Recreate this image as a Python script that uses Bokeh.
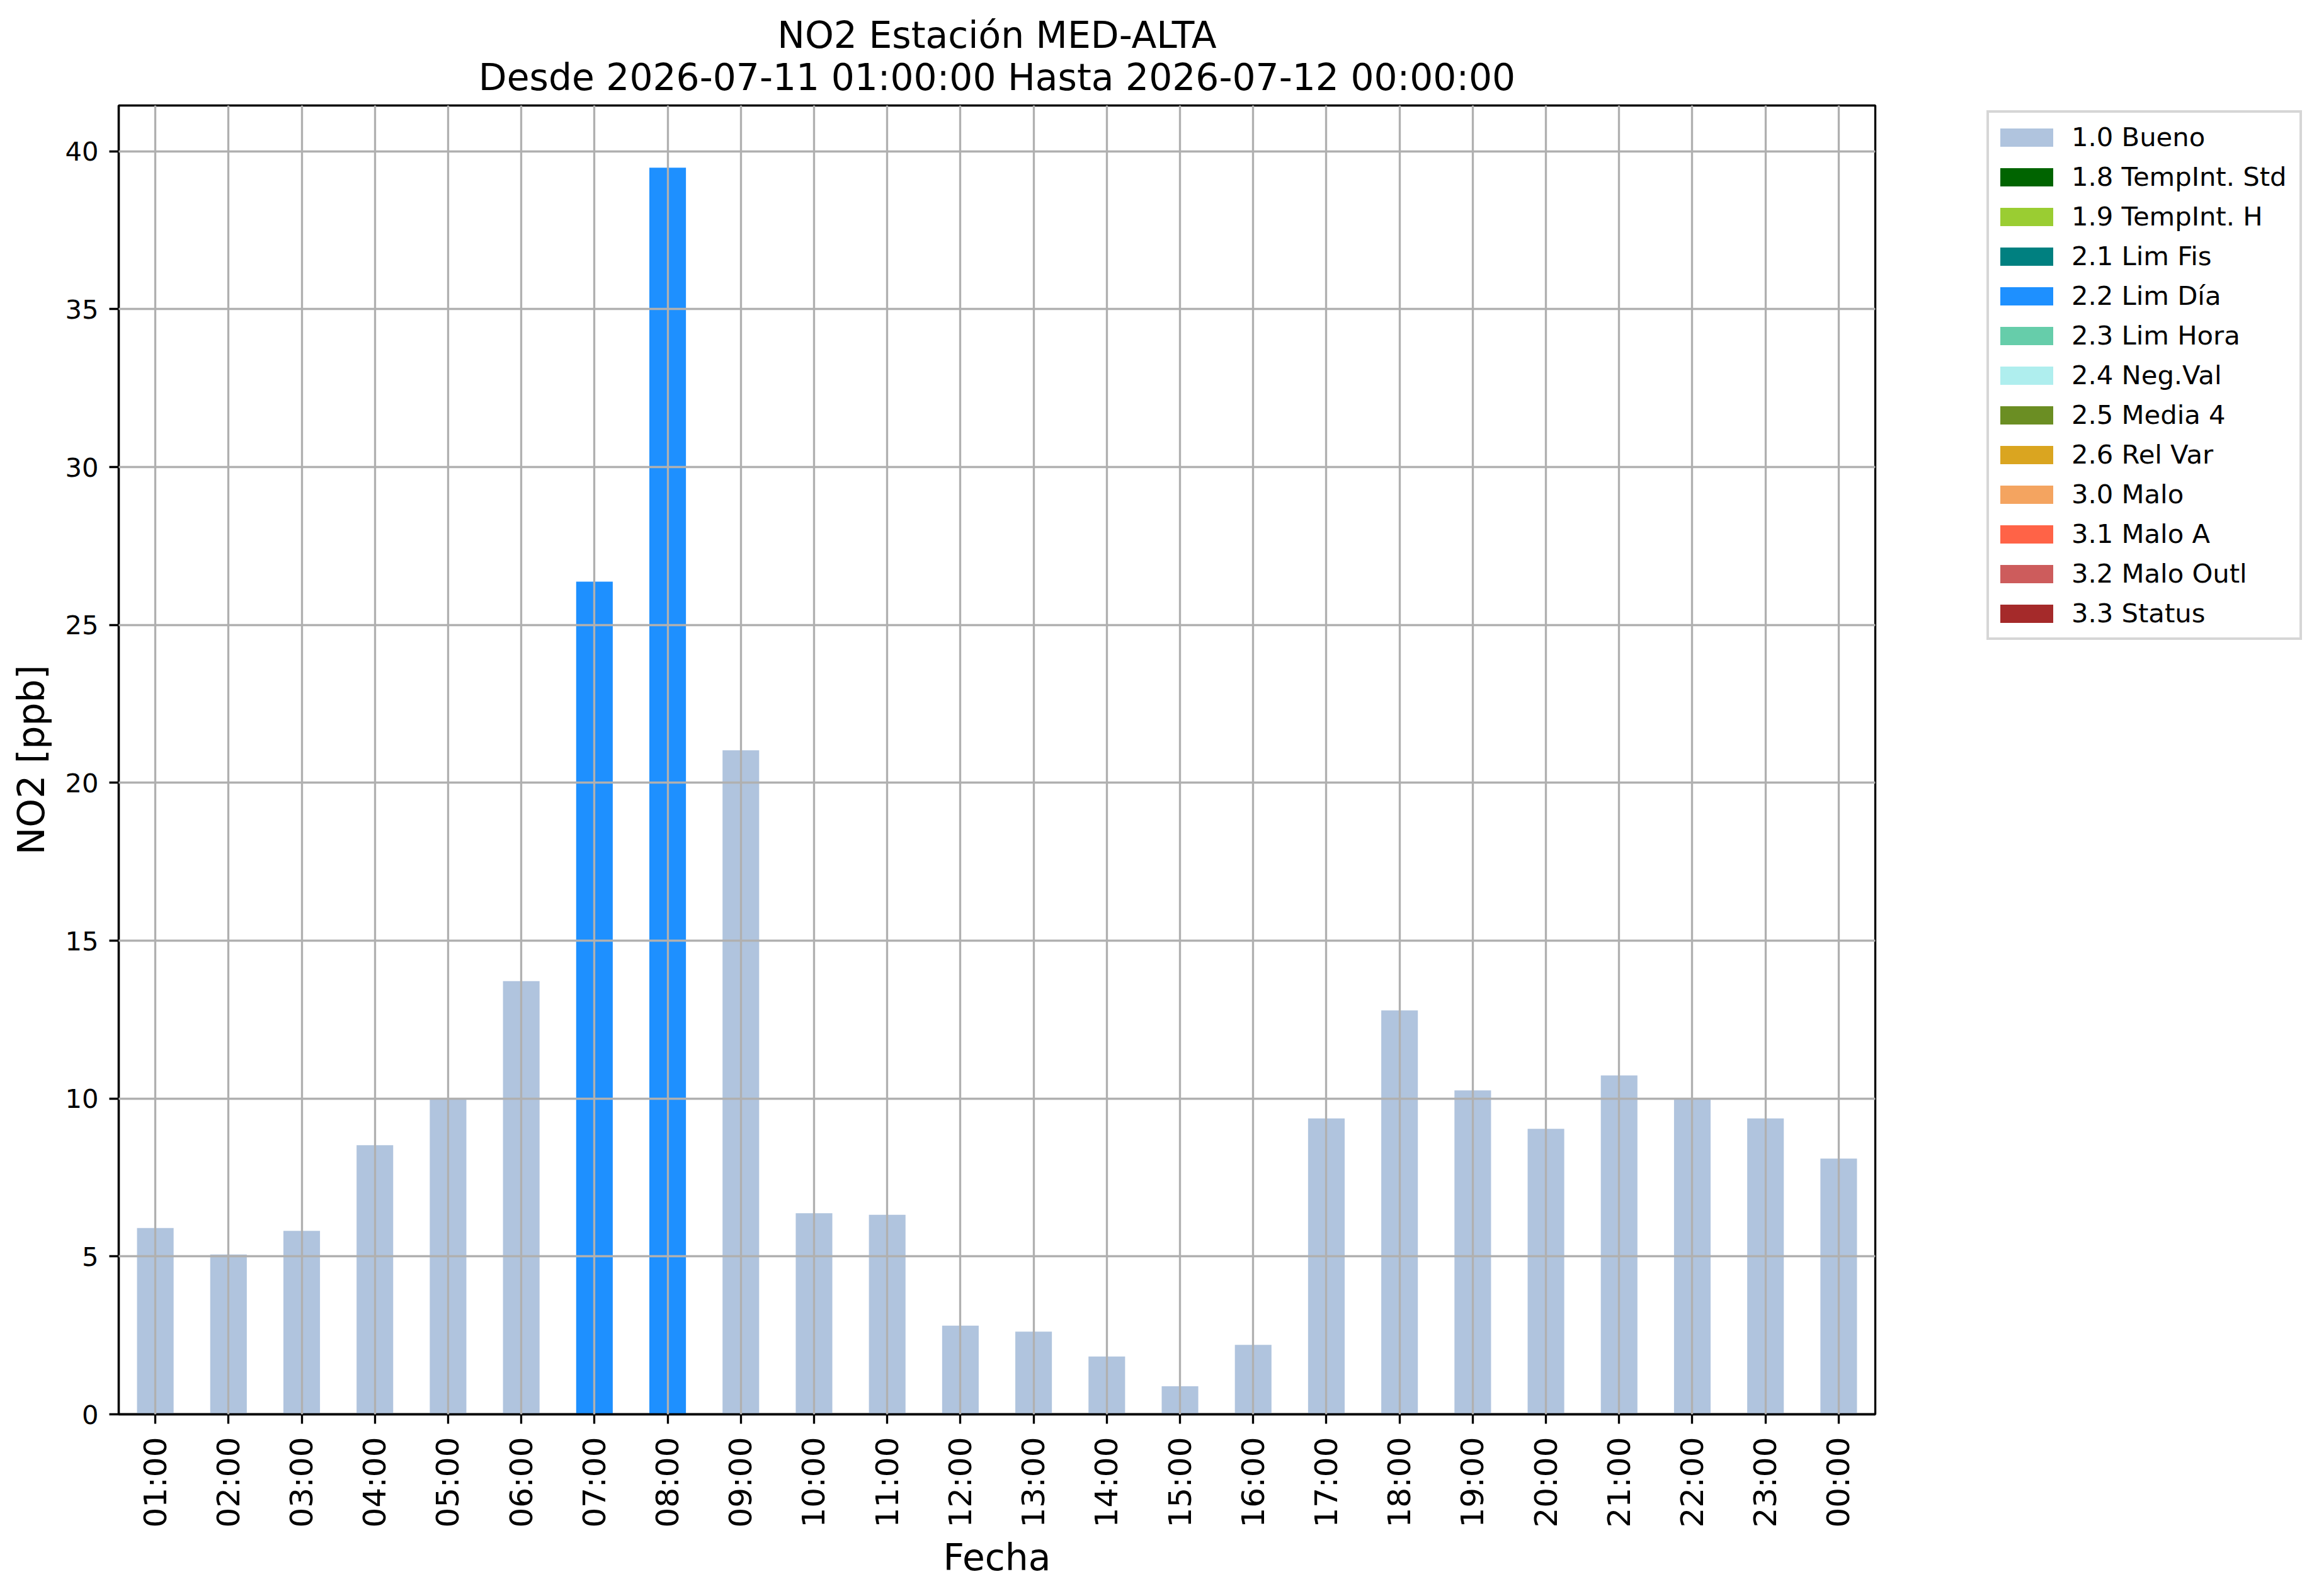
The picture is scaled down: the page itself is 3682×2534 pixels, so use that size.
import math
import numpy as np
from bokeh.plotting import figure
from bokeh.models import (ColumnDataSource, FactorRange, Range1d, FixedTicker,
                          Legend, LegendItem, Title)
from bokeh.embed import file_html
from bokeh.resources import INLINE

# ---------------- data ----------------
hours = ["01:00", "02:00", "03:00", "04:00", "05:00", "06:00", "07:00", "08:00",
         "09:00", "10:00", "11:00", "12:00", "13:00", "14:00", "15:00", "16:00",
         "17:00", "18:00", "19:00", "20:00", "21:00", "22:00", "23:00", "00:00"]
no2 = [5.90, 5.06, 5.81, 8.52, 10.02, 13.72, 26.37, 39.48,
       21.03, 6.37, 6.32, 2.81, 2.62, 1.83, 0.89, 2.20,
       9.37, 12.79, 10.26, 9.04, 10.73, 9.98, 9.37, 8.10]
flag = ["1.0 Bueno", "1.0 Bueno", "1.0 Bueno", "1.0 Bueno", "1.0 Bueno", "1.0 Bueno",
        "2.2 Lim Día", "2.2 Lim Día",
        "1.0 Bueno", "1.0 Bueno", "1.0 Bueno", "1.0 Bueno", "1.0 Bueno", "1.0 Bueno",
        "1.0 Bueno", "1.0 Bueno", "1.0 Bueno", "1.0 Bueno", "1.0 Bueno", "1.0 Bueno",
        "1.0 Bueno", "1.0 Bueno", "1.0 Bueno", "1.0 Bueno"]
flag_names = ["1.0 Bueno", "1.8 TempInt. Std", "1.9 TempInt. H", "2.1 Lim Fis",
              "2.2 Lim Día", "2.3 Lim Hora", "2.4 Neg.Val", "2.5 Media 4",
              "2.6 Rel Var", "3.0 Malo", "3.1 Malo A", "3.2 Malo Outl", "3.3 Status"]
flag_colors = ["#B0C4DE", "#006400", "#9ACD32", "#008080", "#1E90FF", "#66CDAA",
               "#AFEEEE", "#6B8E23", "#DAA520", "#F4A460", "#FF6347", "#CD5C5C",
               "#A52A2A"]
y_ticks = [0, 5, 10, 15, 20, 25, 30, 35, 40]
title_line1 = "NO2 Estación MED-ALTA"
title_line2 = "Desde 2026-07-11 01:00:00 Hasta 2026-07-12 00:00:00"

FONT = "DejaVu Sans"
LW = 3.33

p = figure(x_range=FactorRange(*hours), y_range=Range1d(0, 41.45),
           frame_width=2789, frame_height=2078,
           min_border_left=188, min_border_right=703,
           min_border_top=167, min_border_bottom=287,
           output_backend="svg", toolbar_location=None)

p.background_fill_color = "white"
p.border_fill_color = "white"
p.outline_line_color = "black"
p.outline_line_width = LW

# one series per quality flag (NaN where the hour has another flag)
items = []
for name, col in zip(flag_names, flag_colors):
    tops = np.array([v if f == name else np.nan for v, f in zip(no2, flag)])
    src = ColumnDataSource(dict(x=hours, top=tops))
    r = p.vbar(x="x", top="top", bottom=0, width=0.5, source=src,
               fill_color=col, line_color=None)
    items.append(LegendItem(label=name, renderers=[r]))

# titles (first added = closest to frame)
t2 = Title(text=title_line2, align="center", text_font=FONT, text_font_size="58.3px",
           text_font_style="normal", text_color="black", standoff=22, offset=0)
t1 = Title(text=title_line1, align="center", text_font=FONT, text_font_size="58.3px",
           text_font_style="normal", text_color="black", standoff=-29, offset=0)
p.add_layout(t2, "above")
p.add_layout(t1, "above")

# axes
for ax in (p.xaxis[0], p.yaxis[0]):
    ax.axis_line_color = "black"
    ax.axis_line_width = LW
    ax.major_tick_line_color = "black"
    ax.major_tick_line_width = LW
    ax.major_tick_out = 15
    ax.major_tick_in = 0
    ax.minor_tick_line_color = None
    ax.major_label_text_font = FONT
    ax.major_label_text_color = "black"
    ax.axis_label_text_font = FONT
    ax.axis_label_text_font_style = "normal"
    ax.axis_label_text_color = "black"
    ax.axis_label_text_font_size = "58.3px"

p.xaxis.axis_label = "Fecha"
p.xaxis.major_label_text_font_size = "50px"
p.xaxis.major_label_orientation = math.pi / 2
p.xaxis.major_label_standoff = 21
p.xaxis.axis_label_standoff = 10

p.yaxis.axis_label = "NO2 [ppb]"
p.yaxis.ticker = FixedTicker(ticks=y_ticks)
p.yaxis.major_label_text_font_size = "41.7px"
p.yaxis.major_label_standoff = 17
p.yaxis.axis_label_standoff = 16

# grid above bars
for g in (p.xgrid[0], p.ygrid[0]):
    g.grid_line_color = "#b0b0b0"
    g.grid_line_width = LW
    g.level = "guide"
p.ygrid.ticker = FixedTicker(ticks=y_ticks)

legend = Legend(items=items, location=(177, 1229),
                label_text_font=FONT, label_text_font_size="41.7px",
                label_text_color="black",
                glyph_width=105, glyph_height=36, label_height=63,
                label_width=355,
                label_standoff=19, spacing=0, padding=7, margin=0,
                border_line_color="#cccccc", border_line_alpha=0.8,
                border_line_width=4,
                background_fill_color="white", background_fill_alpha=0.8)
p.add_layout(legend, "right")

open("out.html", "w").write(file_html(p, INLINE))
